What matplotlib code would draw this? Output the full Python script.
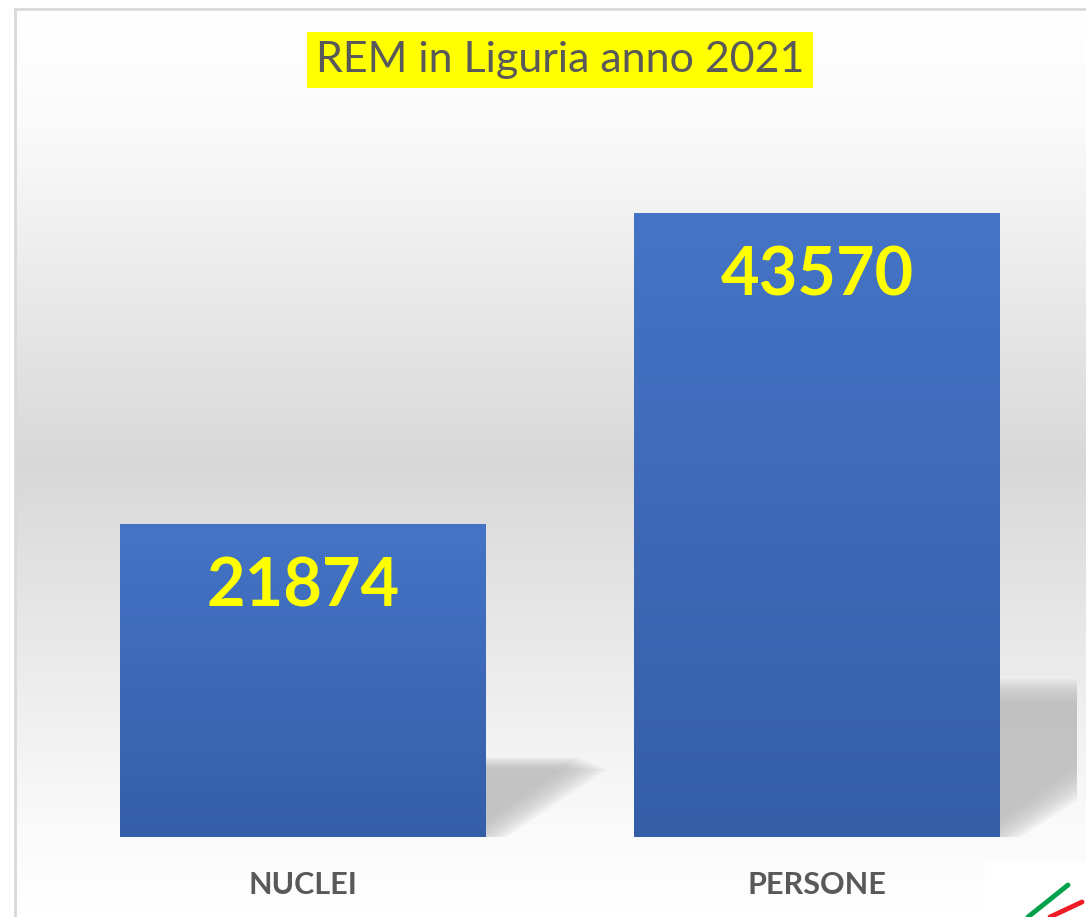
import matplotlib
matplotlib.use("Agg")
import matplotlib.pyplot as plt
from matplotlib.patches import Polygon, Rectangle
from matplotlib.colors import LinearSegmentedColormap
import numpy as np

# data
categories = ["NUCLEI", "PERSONE"]
values = [21874, 43570]
title = "REM in Liguria anno 2021"

W, H = 1086, 917
plt.rcParams['font.family'] = ['Lato', 'DejaVu Sans']

fig = plt.figure(figsize=(W / 100, H / 100), dpi=100)


def fx(px):
    return px / W


def fy(py):
    return 1 - py / H


# background gradient (white -> light gray -> white), framed by a thin border
bg = fig.add_axes([0, 0, 1, 1])
bg.set_xlim(0, W)
bg.set_ylim(H, 0)
bg.axis("off")
bg_cmap = LinearSegmentedColormap.from_list(
    "bg", [(0, "#ffffff"), (0.12, "#fbfbfb"), (0.5, "#d8d8d8"), (0.9, "#fafafa"), (1, "#ffffff")])
grad = np.linspace(0, 1, 400).reshape(-1, 1)
bg.imshow(grad, cmap=bg_cmap, extent=[15, W, H, 9], aspect="auto", zorder=0)
bg.plot([15, 15], [H, 9], color="#d9d9d9", lw=2, zorder=1)
bg.plot([15, W], [9, 9], color="#d9d9d9", lw=2, zorder=1)

# bars
ax = fig.add_axes([fx(46), fy(837), fx(1074) - fx(46), fy(130) - fy(837)])
ax.patch.set_alpha(0)
x = np.arange(len(categories))
ymax = max(values) * 707 / 624
ax.set_xlim(-0.5, len(categories) - 0.5)
ax.set_ylim(0, ymax)
for s in ax.spines.values():
    s.set_visible(False)
ax.set_yticks([])
ax.set_xticks([])

width = 0.712
bars = ax.bar(x, values, width=width, color="none", zorder=3)

bar_cmap = LinearSegmentedColormap.from_list("bar", ["#4574c6", "#345ea8"])
px_per_x = (1074 - 46) / len(categories)
px_per_y = 707 / ymax
clip = Rectangle((0, 0), 1, 1, transform=fig.transFigure)
clip.set_bounds(fx(15), 0, fx(1077) - fx(15), 1)

for b, v in zip(bars, values):
    x0, x1 = b.get_x(), b.get_x() + b.get_width()
    # gradient fill inside the bar
    im = ax.imshow(np.linspace(0, 1, 200).reshape(-1, 1), cmap=bar_cmap,
                   extent=[x0, x1, 0, v], aspect="auto", zorder=3)
    im.set_clip_path(b)
    # perspective shadow behind the bar (blurred by stacking)
    sh_h = 0.235 * v
    sh_dx = (sh_h * px_per_y / 0.69) / px_per_x
    for k in range(10):
        g = (k - 4.5) * 0.006
        gy = (k - 4.5) * 0.004 * v
        poly = Polygon([(x1 - 0.05, 0), (x1 - 0.05, sh_h - gy),
                        (x1 + sh_dx + g, sh_h - gy), (x1 + g * 1.5, 0)],
                       closed=True, facecolor="#b4b4b4", edgecolor="none",
                       alpha=0.12, zorder=2)
        ax.add_patch(poly)
        poly.set_clip_path(clip)
    ax.text(b.get_x() + b.get_width() / 2, v - 0.046 * ymax, f"{v}",
            ha="center", va="top", color="#ffff00", fontsize=48,
            fontweight="bold", zorder=4)

ax.set_xlim(-0.5, len(categories) - 0.5)
ax.set_ylim(0, ymax)

for xi, c in zip(x, categories):
    ax.text(xi, -0.068 * ymax, c, ha="center", va="center", color="#595959",
            fontsize=22, fontweight="bold", zorder=4)

# title with yellow highlight
fig.text(fx(560), fy(60), title, ha="center", va="center", color="#595959",
         fontsize=31,
         bbox=dict(boxstyle="square,pad=0.2", facecolor="#ffff00", edgecolor="none"))

# corner logo fragment
bg.add_patch(Rectangle((985, 863), W - 985, H - 863, facecolor="white",
                       edgecolor="none", zorder=2))
bg.plot([1068, 1028], [885, 917], color="#00a14b", lw=3.5, solid_capstyle="round", zorder=3)
bg.plot([1082, 1050], [902, 917], color="#ee1c25", lw=3.5, solid_capstyle="round", zorder=3)

fig.savefig("out.png", dpi=100)
